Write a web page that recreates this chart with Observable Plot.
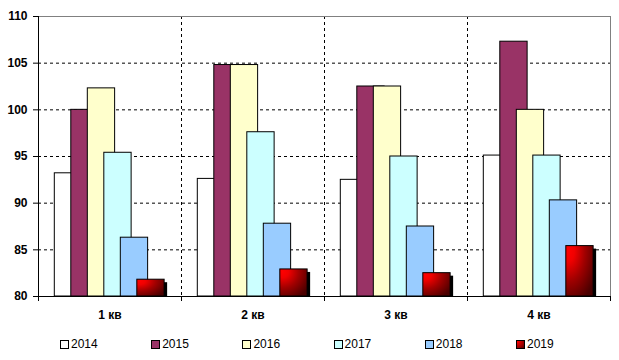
<!DOCTYPE html>
<html>
<head>
<meta charset="utf-8">
<script src="https://cdn.jsdelivr.net/npm/d3@7"></script>
<script src="https://cdn.jsdelivr.net/npm/@observablehq/plot@0.6"></script>
<style>
  body { margin: 0; background: white; font-family: Arial, "Liberation Sans", sans-serif; }
  #wrap { position: relative; width: 619px; height: 360px; }
  #legend { position: absolute; left: 0; top: 336px; width: 619px; height: 16px; }
  .item { position: absolute; top: 0; display: flex; align-items: center; font-size: 12px; color: black; line-height: 16px; }
  .sw { width: 7px; height: 7px; border: 1px solid black; margin-right: 2px; box-sizing: content-box; }
</style>
</head>
<body>
<div id="wrap"><div id="chart"></div><div id="legend"></div></div>
<script>
const categories = ["1 кв", "2 кв", "3 кв", "4 кв"];
const years = ["2014", "2015", "2016", "2017", "2018", "2019"];
const s2014 = [93.2, 92.6, 92.5, 95.1];
const s2015 = [100.0, 104.8, 102.5, 107.3];
const s2016 = [102.3, 104.8, 102.5, 100.0];
const s2017 = [95.4, 97.6, 95.0, 95.1];
const s2018 = [86.3, 87.8, 87.5, 90.3];
const s2019 = [81.8, 82.9, 82.5, 85.4];
const yTicks = [80, 85, 90, 95, 100, 105, 110];

const seriesValues = [s2014, s2015, s2016, s2017, s2018, s2019];
const colors = ["#ffffff", "#993366", "#ffffcc", "#ccffff", "#99ccff", "url(#redgrad)"];

const rows = [];
years.forEach((y, k) => {
  seriesValues[k].forEach((v, ci) => rows.push({year: y, k, ci, cat: categories[ci], value: v}));
});

// layout within each category (category spans 1 unit on x)
const groupStart = 0.114, step = 0.1154, barW = 0.191;
const bx1 = d => d.ci + groupStart + d.k * step;
const bx2 = d => d.ci + groupStart + d.k * step + barW;

const last = rows.filter(d => d.year === "2019");
const others = rows.filter(d => d.year !== "2019");

const chart = Plot.plot({
  width: 619,
  height: 330,
  marginLeft: 38,
  marginRight: 9,
  marginTop: 16,
  marginBottom: 34,
  style: {fontFamily: "Arial, 'Liberation Sans', sans-serif", fontSize: "11.5px", color: "black", background: "white"},
  x: {type: "linear", domain: [0, categories.length], label: null},
  y: {domain: [80, 110], label: null},
  marks: [
    Plot.ruleY(yTicks.filter(t => t > 80 && t < 110), {stroke: "black", strokeDasharray: "3,3"}),
    Plot.ruleX(d3.range(1, categories.length), {stroke: "black", strokeDasharray: "3,3"}),
    Plot.ruleY([110], {stroke: "#808080"}),
    Plot.ruleX([categories.length], {stroke: "#808080"}),
    Plot.rect(others, {x1: bx1, x2: bx2, y1: 80, y2: "value", fill: d => colors[d.k], stroke: "black", strokeWidth: 1}),
    Plot.rect(last, {x1: bx1, x2: bx2, y1: 80, y2: "value", fill: "black", dx: 3, insetTop: 3}),
    Plot.rect(last, {x1: bx1, x2: bx2, y1: 80, y2: "value", fill: colors[5], stroke: "black", strokeWidth: 1}),
    Plot.ruleX([0], {stroke: "black"}),
    Plot.ruleY([80], {stroke: "black"}),
    Plot.axisY({ticks: yTicks, tickSize: 5, tickPadding: 6, fontWeight: "bold", fontSize: 12, label: null, tickFormat: d => String(d)}),
    Plot.axisX({ticks: d3.range(0, categories.length + 1), tickSize: 5, label: null, tickFormat: () => ""}),
    Plot.axisX({ticks: categories.map((c, i) => i + 0.5), tickSize: 0, tickPadding: 14, fontWeight: "bold", fontSize: 12, label: null, tickFormat: d => categories[Math.floor(d)]})
  ]
});

d3.select(chart).insert("defs", ":first-child").html(`
  <radialGradient id="redgrad" cx="0.1" cy="0.1" r="1.1" fx="0.1" fy="0.1">
    <stop offset="0" stop-color="#ff0000"/>
    <stop offset="0.2" stop-color="#f00000"/>
    <stop offset="0.55" stop-color="#a00000"/>
    <stop offset="1" stop-color="#4a0000"/>
  </radialGradient>`);

document.getElementById("chart").appendChild(chart);

const legend = document.getElementById("legend");
years.forEach((y, i) => {
  const item = document.createElement("div");
  item.className = "item";
  item.style.left = (60 + i * 91.2) + "px";
  const sw = document.createElement("div");
  sw.className = "sw";
  sw.style.background = i === 5 ? "radial-gradient(circle at 10% 10%, #ff0000, #a00000 60%, #4a0000)" : colors[i];
  const t = document.createElement("span");
  t.textContent = y;
  item.appendChild(sw);
  item.appendChild(t);
  legend.appendChild(item);
});
</script>
</body>
</html>
